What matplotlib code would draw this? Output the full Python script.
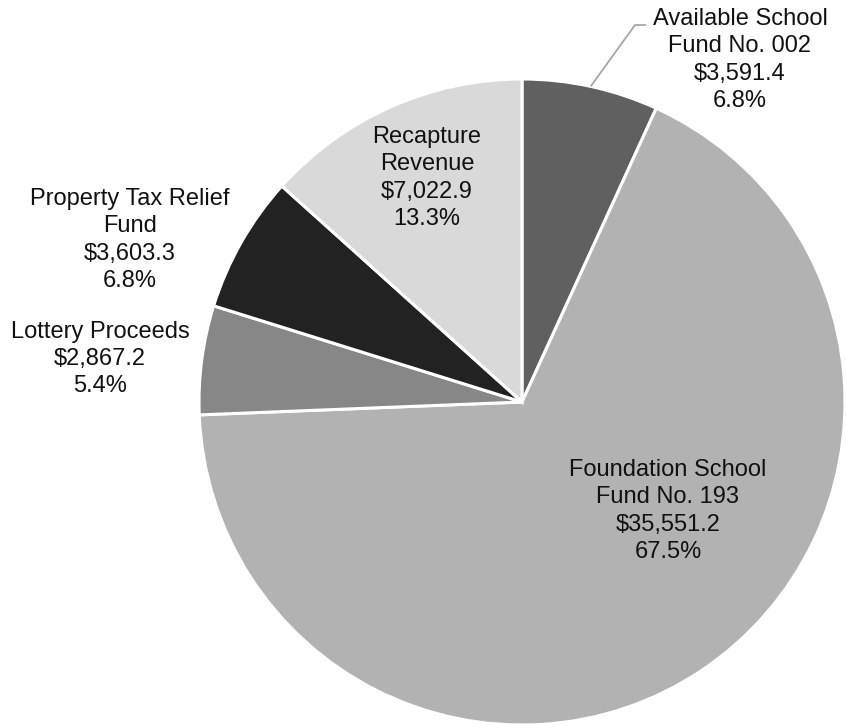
import numpy as np
import matplotlib
matplotlib.use("Agg")
import matplotlib.pyplot as plt

categories = ["Available School\nFund No. 002", "Foundation School\nFund No. 193",
              "Lottery Proceeds", "Property Tax Relief\nFund", "Recapture\nRevenue"]
amounts = [3591.4, 35551.2, 2867.2, 3603.3, 7022.9]
percents = ["6.8%", "67.5%", "5.4%", "6.8%", "13.3%"]
colors = ["#606060", "#b2b2b2", "#878787", "#222222", "#d9d9d9"]

W, H = 846, 725
fig = plt.figure(figsize=(W / 100, H / 100), dpi=100)
ax = fig.add_axes([0, 0, 1, 1])
ax.set_xlim(0, W)
ax.set_ylim(0, H)
ax.set_aspect("equal")
ax.axis("off")

cx, cy, R = 522, H - 402, 323
wedges, _ = ax.pie(amounts, colors=colors, startangle=90, counterclock=False,
                   center=(cx, cy), radius=R,
                   wedgeprops=dict(edgecolor="white", linewidth=2.2))
ax.set_xlim(0, W)
ax.set_ylim(0, H)

font = dict(family=["Liberation Sans", "DejaVu Sans"], fontsize=17, color="#111111",
            ha="center", va="center", linespacing=1.3)
label_pos = [(740, H - 60), (668, H - 511), (100, H - 359), (130, H - 240), (427, H - 178)]
for cat, amt, pct, (x, y) in zip(categories, amounts, percents, label_pos):
    ax.text(x, y, f"{cat}\n${amt:,.1f}\n{pct}", **font)

# leader line for Available School Fund
w = wedges[0]
ang = np.deg2rad(w.theta1 + (w.theta2 - w.theta1) * 0.5)
sx, sy = cx + R * np.cos(ang), cy + R * np.sin(ang)
ax.plot([sx, 635, 646], [sy, H - 25, H - 25], color="#a6a6a6", lw=1.3,
        solid_capstyle="butt")

fig.savefig("out.png", dpi=100)
